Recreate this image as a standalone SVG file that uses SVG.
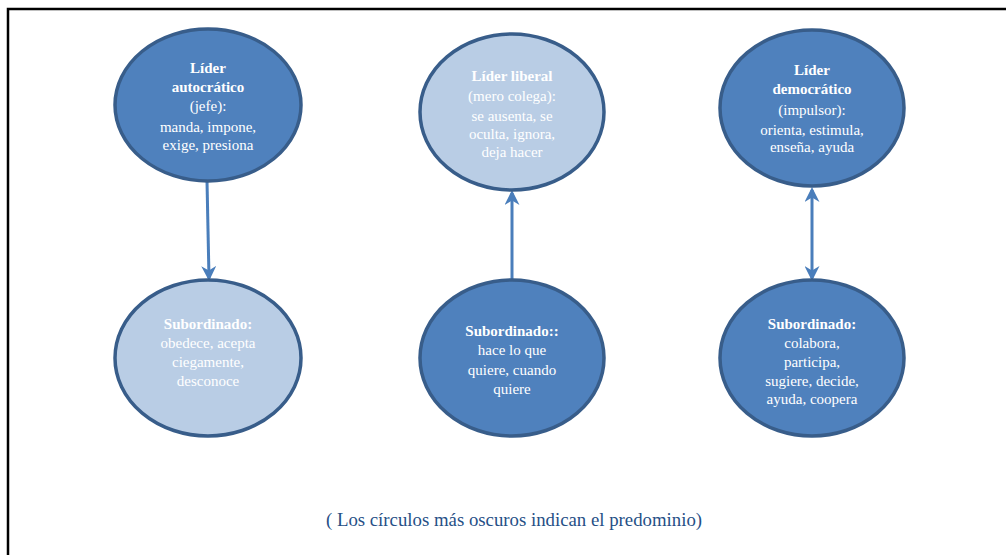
<svg xmlns="http://www.w3.org/2000/svg" width="1006" height="555" viewBox="0 0 1006 555">
  <style>
    .dark { fill: #4F81BD; stroke: #385D8A; stroke-width: 3.5; }
    .light { fill: #B9CDE5; stroke: #385D8A; stroke-width: 3.5; }
    .lbl { font-family: "Liberation Serif", "Times New Roman", serif; font-size: 15px; fill: #FFFFFF; text-anchor: middle; }
    .b { font-weight: bold; }
    .conn { stroke: #4A7EBB; stroke-width: 3; fill: none; }
    .note { font-family: "Liberation Serif", "Times New Roman", serif; font-size: 18.8px; fill: #264F86; text-anchor: middle; }
  </style>
  <defs>
    <marker id="head" viewBox="0 0 10 10" refX="8" refY="5" markerWidth="5" markerHeight="5" orient="auto-start-reverse">
      <path d="M0,0 L10,5 L0,10 L3,5 Z" fill="#4A7EBB"/>
    </marker>
  </defs>

  <rect width="1006" height="555" fill="#FFFFFF"/>
  <!-- frame: top and left edges only -->
  <path d="M8,555 L8,9 L1006,9" fill="none" stroke="#000000" stroke-width="2.5"/>

  <g id="connectors">
    <line class="conn" x1="207" y1="181" x2="209" y2="278" marker-end="url(#head)"/>
    <line class="conn" x1="512" y1="280" x2="512" y2="193" marker-end="url(#head)"/>
    <line class="conn" x1="812" y1="190" x2="812" y2="278" marker-start="url(#head)" marker-end="url(#head)"/>
  </g>

  <g id="lider-autocratico">
    <ellipse class="dark" cx="208" cy="105" rx="93" ry="76"/>
    <text class="lbl b" x="208" y="73">Líder</text>
    <text class="lbl b" x="208" y="92">autocrático</text>
    <text class="lbl" x="208" y="111">(jefe):</text>
    <text class="lbl" x="208" y="132">manda, impone,</text>
    <text class="lbl" x="208" y="150">exige, presiona</text>
  </g>

  <g id="lider-liberal">
    <ellipse class="light" cx="512" cy="112" rx="92" ry="78"/>
    <text class="lbl b" x="512" y="81">Líder liberal</text>
    <text class="lbl" x="512" y="101">(mero colega):</text>
    <text class="lbl" x="512" y="121">se ausenta, se</text>
    <text class="lbl" x="512" y="139">oculta, ignora,</text>
    <text class="lbl" x="512" y="157">deja hacer</text>
  </g>

  <g id="lider-democratico">
    <ellipse class="dark" cx="812" cy="108" rx="92" ry="78"/>
    <text class="lbl b" x="812" y="75">Líder</text>
    <text class="lbl b" x="812" y="94">democrático</text>
    <text class="lbl" x="812" y="115">(impulsor):</text>
    <text class="lbl" x="812" y="135">orienta, estimula,</text>
    <text class="lbl" x="812" y="152">enseña, ayuda</text>
  </g>

  <g id="subordinado-autocratico">
    <ellipse class="light" cx="208" cy="358" rx="93" ry="78"/>
    <text class="lbl b" x="208" y="329">Subordinado:</text>
    <text class="lbl" x="208" y="348">obedece, acepta</text>
    <text class="lbl" x="208" y="367">ciegamente,</text>
    <text class="lbl" x="208" y="386">desconoce</text>
  </g>

  <g id="subordinado-liberal">
    <ellipse class="dark" cx="512" cy="358" rx="92" ry="78"/>
    <text class="lbl b" x="512" y="336">Subordinado::</text>
    <text class="lbl" x="512" y="355">hace lo que</text>
    <text class="lbl" x="512" y="375">quiere, cuando</text>
    <text class="lbl" x="512" y="394">quiere</text>
  </g>

  <g id="subordinado-democratico">
    <ellipse class="dark" cx="812" cy="358" rx="92" ry="78"/>
    <text class="lbl b" x="812" y="329">Subordinado:</text>
    <text class="lbl" x="812" y="348">colabora,</text>
    <text class="lbl" x="812" y="367">participa,</text>
    <text class="lbl" x="812" y="386">sugiere, decide,</text>
    <text class="lbl" x="812" y="404">ayuda, coopera</text>
  </g>

  <text class="note" x="514" y="526">( Los círculos más oscuros indican el predominio)</text>
</svg>
